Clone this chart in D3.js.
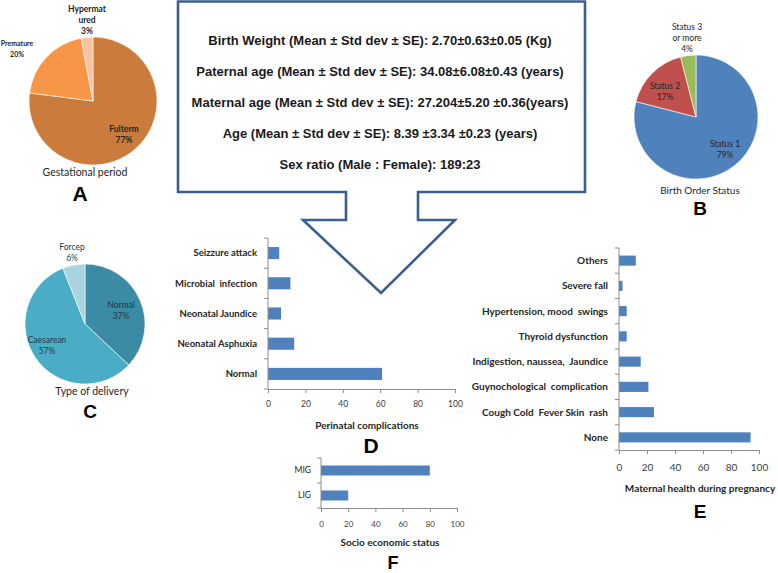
<!DOCTYPE html>
<html><head><meta charset="utf-8">
<script src="https://cdn.jsdelivr.net/npm/d3@7"></script>
<style>
body{margin:0;background:#fff;}
svg{display:block;}
text{font-family:Lato, "Open Sans", sans-serif;}
</style></head>
<body>
<svg id="c" width="778" height="573"></svg>
<script>
// ---------------- DATA ----------------
const gestLabels = ["Fulterm", "Premature", "Hypermatured"];
const gestValues = [77, 20, 3];
const birthOrderLabels = ["Status 1", "Status 2", "Status 3 or more"];
const birthOrderValues = [79, 17, 4];
const deliveryLabels = ["Normal", "Caesarean", "Forcep"];
const deliveryValues = [37, 57, 6];
const perinatalCats = ["Seizzure attack", "Microbial  infection", "Neonatal Jaundice", "Neonatal Asphuxia", "Normal"];
const perinatalValues = [6, 12, 7, 14, 61];
const maternalCats = ["Others", "Severe fall", "Hypertension, mood  swings", "Thyroid dysfunction", "Indigestion, naussea,  Jaundice", "Guynochological  complication", "Cough Cold  Fever Skin  rash", "None"];
const maternalValues = [12, 2.5, 5.5, 5.5, 15.5, 21, 25, 94];
const socioCats = ["MIG", "LIG"];
const socioValues = [80, 20];
const xTicks = [0, 20, 40, 60, 80, 100];
const summaryLines = [
  "Birth Weight (Mean \u00b1 Std dev \u00b1 SE): 2.70\u00b10.63\u00b10.05 (Kg)",
  "Paternal age (Mean \u00b1 Std dev \u00b1 SE): 34.08\u00b16.08\u00b10.43 (years)",
  "Maternal age (Mean \u00b1 Std dev \u00b1 SE): 27.204\u00b15.20 \u00b10.36(years)",
  "Age (Mean \u00b1 Std dev \u00b1 SE): 8.39 \u00b13.34 \u00b10.23 (years)",
  "Sex ratio (Male : Female): 189:23"
];

// ---------------- DRAWING ----------------
const svg = d3.select("#c");
const barColor = "#4F81BD";
const axisColor = "#8c8c8c";

function pct(v){ return v + "%"; }

function drawPie(cfg){
  const g = svg.append("g").attr("transform", `translate(${cfg.cx},${cfg.cy})`);
  const pie = d3.pie().sort(null).value(d => d)(cfg.values);
  const arc = d3.arc().innerRadius(0).outerRadius(cfg.r);
  g.selectAll("path").data(pie).join("path")
    .attr("d", arc).attr("fill", (d,i) => cfg.colors[i]).attr("stroke", "#fff").attr("stroke-width", 0.6);
  pie.forEach((d,i) => {
    const lines = cfg.labelLines[i].concat([pct(cfg.values[i])]);
    const [dx, dy] = cfg.labelPos[i];
    const lh = cfg.lineH;
    const t = g.append("text").attr("text-anchor","middle")
      .attr("font-size", cfg.labelSize[i]).attr("fill", cfg.labelColor)
      .attr("font-weight", cfg.labelWeight || 400);
    lines.forEach((ln, j) => {
      t.append("tspan").attr("x", dx).attr("y", dy + (j - (lines.length-1)/2)*lh + cfg.labelSize[i]*0.35).text(ln);
    });
  });
  svg.append("text").attr("x", cfg.cx + cfg.titleDx).attr("y", cfg.titleY)
    .attr("text-anchor","middle").attr("font-size", cfg.titleSize).attr("fill","#262626").text(cfg.title);
  svg.append("text").attr("x", cfg.letterX).attr("y", cfg.letterY)
    .attr("text-anchor","middle").attr("font-size", cfg.letterSize).attr("font-weight",700)
    .style("font-family","'Liberation Sans', Arial, sans-serif").attr("fill","#000").text(cfg.letter);
}

function drawBars(cfg){
  const x = d3.scaleLinear().domain([0,100]).range([cfg.x0, cfg.x1]);
  const y = d3.scaleBand().domain(cfg.cats).range([cfg.y0, cfg.y1]).paddingInner(0.6).paddingOuter(0.3);
  const g = svg.append("g");
  g.selectAll("rect").data(cfg.values).join("rect")
    .attr("x", x(0)).attr("y", (d,i) => y(cfg.cats[i]))
    .attr("width", d => x(d) - x(0)).attr("height", y.bandwidth()).attr("fill", barColor);
  // y axis
  const step = (cfg.y1 - cfg.y0) / cfg.cats.length;
  g.append("line").attr("x1", x(0)).attr("x2", x(0)).attr("y1", cfg.y0).attr("y2", cfg.y1)
    .attr("stroke", axisColor).attr("stroke-width", 1);
  d3.range(cfg.cats.length + 1).forEach(i => {
    g.append("line").attr("x1", x(0) - 4).attr("x2", x(0)).attr("y1", cfg.y0 + i*step).attr("y2", cfg.y0 + i*step)
      .attr("stroke", axisColor);
  });
  // x axis
  const xa = g.append("g").attr("transform", `translate(0,${cfg.y1})`)
    .call(d3.axisBottom(x).tickValues(xTicks).tickSize(4).tickSizeOuter(0).tickPadding(cfg.tickPad));
  xa.select(".domain").attr("stroke", axisColor);
  xa.selectAll(".tick line").attr("stroke", axisColor);
  xa.selectAll(".tick text").attr("font-size", cfg.tickSize).attr("fill", "#404040")
    .style("font-family","Lato, sans-serif");
  // category labels
  g.selectAll("text.cat").data(cfg.cats).join("text").attr("class","cat")
    .attr("x", x(0) - cfg.labelGap).attr("y", d => y(d) + y.bandwidth()/2)
    .attr("dy", "0.35em").attr("text-anchor","end").attr("font-size", cfg.catSize)
    .attr("font-weight", cfg.catWeight).attr("fill", "#262626")
    .style("white-space","pre").text(d => d);
  svg.append("text").attr("x", cfg.titleX).attr("y", cfg.titleY).attr("text-anchor","middle")
    .attr("font-size", cfg.titleSize).attr("font-weight", 700).attr("fill","#262626").text(cfg.title);
  svg.append("text").attr("x", cfg.letterX).attr("y", cfg.letterY)
    .attr("text-anchor","middle").attr("font-size", cfg.letterSize).attr("font-weight",700)
    .style("font-family","'Liberation Sans', Arial, sans-serif").attr("fill","#000").text(cfg.letter);
}

// Callout box with arrow
const callout = d3.path();
callout.moveTo(178,1.5); callout.lineTo(585,1.5); callout.lineTo(585,192); callout.lineTo(418,192);
callout.lineTo(418,220); callout.lineTo(455,220); callout.lineTo(381,293); callout.lineTo(303,220);
callout.lineTo(346,220); callout.lineTo(346,192); callout.lineTo(178,192); callout.closePath();
svg.append("path").attr("d", callout.toString()).attr("fill","#fff").attr("stroke","#3B5F8E").attr("stroke-width",2.6)
  .attr("stroke-linejoin","miter");

svg.append("g").selectAll("text").data(summaryLines).join("text")
  .attr("x", 380).attr("y", (d,i) => 45 + i*31).attr("text-anchor","middle")
  .attr("font-size", 13).attr("font-weight", 700).attr("fill","#1a1a1a")
  .style("font-family","'Liberation Sans', Arial, sans-serif").text(d => d);

// Pies
drawPie({cx:93, cy:101, r:64, values:gestValues, colors:["#CB7B3B","#F79646","#F9C3A3"],
  labelLines:[["Fulterm"],["Premature"],["Hypermat","ured"]],
  labelPos:[[31,33.5],[-76,-52],[-6,-81]], labelSize:[8.5,7,8.5], lineH:11, labelColor:"#262626", labelWeight:700,
  title:"Gestational period", titleDx:-8, titleY:176, titleSize:10.5, letter:"A", letterX:80, letterY:201, letterSize:21});

drawPie({cx:696, cy:117, r:62, values:birthOrderValues, colors:["#4F81BD","#C0504D","#9BBB59"],
  labelLines:[["Status 1"],["Status 2"],["Status 3","or more"]],
  labelPos:[[29,33],[-31,-25],[-9,-79]], labelSize:[8.5,8.5,8.5], lineH:11, labelColor:"#262626", labelWeight:400,
  title:"Birth Order Status", titleDx:4, titleY:194, titleSize:10, letter:"B", letterX:700, letterY:215, letterSize:19});

drawPie({cx:85, cy:324, r:60, values:deliveryValues, colors:["#3A8BA3","#4BACC6","#A9D3DF"],
  labelLines:[["Normal"],["Caesarean"],["Forcep"]],
  labelPos:[[36,-13.5],[-38,21.5],[-13,-71]], labelSize:[8.5,8.5,8.5], lineH:11, labelColor:"#1f3b4d", labelWeight:400,
  title:"Type of delivery", titleDx:7, titleY:395, titleSize:10.5, letter:"C", letterX:90, letterY:418, letterSize:19});

// Bars
drawBars({cats:perinatalCats, values:perinatalValues, x0:268, x1:455, y0:238, y1:389,
  tickSize:8.5, tickPad:8, catSize:9.5, catWeight:700, labelGap:11,
  title:"Perinatal complications", titleX:367, titleY:429, titleSize:10,
  letter:"D", letterX:371, letterY:453, letterSize:21});

drawBars({cats:maternalCats, values:maternalValues, x0:619, x1:759, y0:248, y1:450,
  tickSize:10, tickPad:10, catSize:10, catWeight:700, labelGap:11,
  title:"Maternal health during pregnancy", titleX:700, titleY:492, titleSize:10,
  letter:"E", letterX:700, letterY:518, letterSize:19});

drawBars({cats:socioCats, values:socioValues, x0:321, x1:457, y0:458, y1:508,
  tickSize:8, tickPad:9, catSize:8.5, catWeight:400, labelGap:10,
  title:"Socio economic status", titleX:390, titleY:546, titleSize:10,
  letter:"F", letterX:393, letterY:569, letterSize:18});
</script>
</body></html>
